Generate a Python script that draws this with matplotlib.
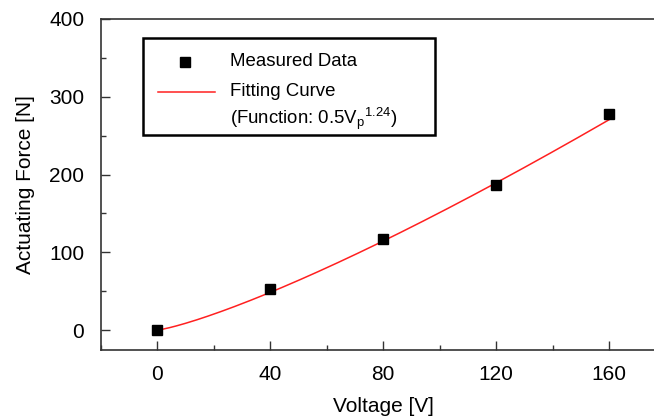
import numpy as np
import matplotlib.pyplot as plt
from matplotlib.patches import Rectangle
from matplotlib.ticker import MultipleLocator

plt.rcParams['font.family'] = ['Liberation Sans', 'DejaVu Sans']
plt.rcParams['mathtext.fontset'] = 'custom'
plt.rcParams['mathtext.rm'] = 'Liberation Sans'
plt.rcParams['mathtext.it'] = 'Liberation Sans'

# measured actuating force vs. applied voltage
voltage = [0, 40, 80, 120, 160]
force = [0, 53, 117, 186, 278]

# power-law fit F = a * Vp^b
fit_a = 0.5
fit_b = 1.24
fit_v = np.linspace(2, 160, 200)
fit_f = fit_a * fit_v ** fit_b

fig = plt.figure(figsize=(6.54, 4.19), dpi=100)
W, H = 654, 419
ax = fig.add_axes([101 / W, 1 - 350 / H, 564.5 / W, 331 / H])

ax.plot(fit_v, fit_f, color='#ff2020', lw=1.1, zorder=2)
ax.plot(voltage, force, 's', color='black', ms=7, zorder=3)

ax.set_xlim(-20, 180)
ax.set_ylim(-25.7, 400)
ax.xaxis.set_major_locator(MultipleLocator(40))
ax.xaxis.set_minor_locator(MultipleLocator(20))
ax.yaxis.set_major_locator(MultipleLocator(100))
ax.yaxis.set_minor_locator(MultipleLocator(50))

ax.spines['right'].set_visible(False)
for s in ['left', 'bottom', 'top']:
    ax.spines[s].set_color('#333333')
    ax.spines[s].set_linewidth(1.2)

ax.tick_params(which='major', direction='in', length=6.5, width=1.0,
               color='#333333', labelsize=15)
ax.tick_params(which='minor', direction='in', length=3.5, width=1.0,
               color='#333333')
ax.tick_params(axis='x', which='both', top=False, pad=11)
ax.tick_params(axis='y', which='both', pad=12)

ax.set_xlabel('Voltage [V]', fontsize=15, labelpad=9)
ax.set_ylabel('Actuating Force [N]', fontsize=15, labelpad=10)

# legend box drawn in figure coordinates
tf = fig.transFigure
fig.patches.append(Rectangle((143 / W, 1 - 135 / H), 292 / W, 97 / H,
                             transform=tf, fill=False, lw=1.8,
                             edgecolor='black'))
fig.lines.append(plt.Line2D([185 / W], [1 - 62 / H], marker='s', ms=7,
                            color='black', transform=tf))
fig.lines.append(plt.Line2D([158 / W, 215 / W], [1 - 92 / H, 1 - 92 / H],
                            color='#ff2020', lw=1.1, transform=tf))
fig.text(230 / W, 1 - 61 / H, 'Measured Data', fontsize=13.4, va='center')
fig.text(230 / W, 1 - 92 / H, 'Fitting Curve', fontsize=13.4, va='center')
fig.text(230 / W, 1 - 119 / H, r'(Function: 0.5V$_\mathrm{p}$$^{1.24}$)',
         fontsize=13.4, va='center')

fig.savefig('out.png', dpi=100)
